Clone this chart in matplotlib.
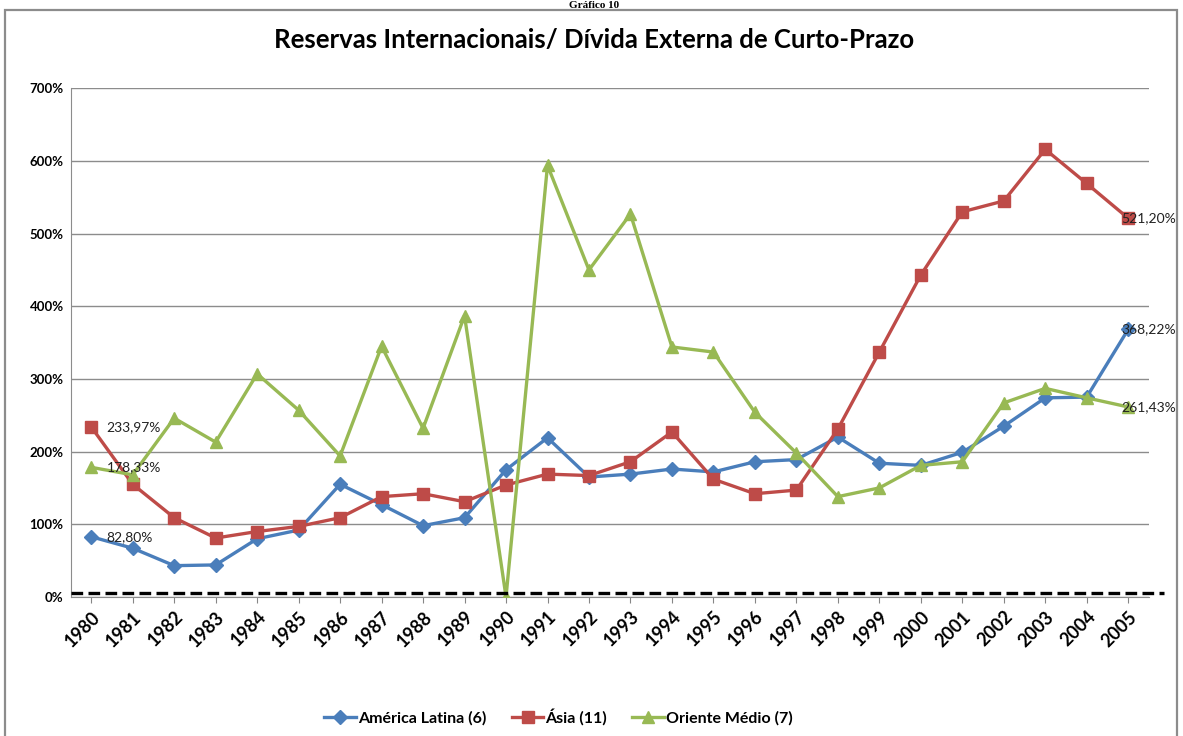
import matplotlib.pyplot as plt
from matplotlib.patches import Rectangle

plt.rcParams['font.family'] = ['Lato', 'DejaVu Sans']

# Data (% of short-term external debt)
years = list(range(1980, 2006))
america_latina = [82.80, 67, 43, 44, 80, 92, 155, 127, 98, 109, 175, 219, 165, 169,
                  176, 172, 186, 189, 220, 184, 181, 199, 235, 274, 275, 368.22]
asia = [233.97, 155, 109, 81, 90, 97, 109, 138, 142, 131, 154, 169, 167, 186,
        227, 162, 142, 147, 231, 337, 443, 530, 545, 616, 569, 521.20]
oriente_medio = [178.33, 168, 246, 213, 307, 257, 194, 345, 232, 387, 0, 594, 450, 527,
                 344, 337, 254, 198, 138, 150, 181, 186, 267, 287, 274, 261.43]
yticks = [0, 100, 200, 300, 400, 500, 600, 700]
ref_level = 5

series = [
    ('América Latina (6)', america_latina, '#4A7EBB', 'D', 7),
    ('Ásia (11)', asia, '#BE4B48', 's', 9),
    ('Oriente Médio (7)', oriente_medio, '#98B954', '^', 9),
]

fig = plt.figure(figsize=(11.83, 7.36), dpi=100)
ax = fig.add_axes([0.0596, 0.189, 0.9116, 0.691])

# outer chart frame
fig.patches.append(Rectangle((0.004, -0.05), 0.991, 1.036, transform=fig.transFigure,
                             fill=False, edgecolor='#8C8C8C', linewidth=1.6))
fig.text(0.502, 0.999, 'Gráfico 10', ha='center', va='top', fontsize=8,
         fontweight='bold', family='Liberation Serif')

for label, vals, color, mk, ms in series:
    ax.plot(years, vals, color=color, linewidth=2.4, marker=mk, markersize=ms,
            label=label, zorder=3)

ax.axhline(ref_level, xmin=0, xmax=1.014, color='black', linewidth=2.4,
           linestyle=(0, (3.5, 1.6)), clip_on=False, zorder=4)

# data labels at first and last year
for vals in (asia, oriente_medio, america_latina):
    ax.annotate(f'{vals[0]:.2f}%'.replace('.', ','), (years[0], vals[0]),
                xytext=(11, 0), textcoords='offset points', va='center',
                fontsize=10, color='#222222', zorder=5)
    ax.annotate(f'{vals[-1]:.2f}%'.replace('.', ','), (years[-1], vals[-1]),
                xytext=(-5, 0), textcoords='offset points', va='center',
                fontsize=10, color='#222222', zorder=5)

ax.set_xlim(1979.5, 2005.5)
ax.set_ylim(0, 700)
ax.set_yticks(yticks)
ax.set_yticklabels([f'{v}%' for v in yticks], fontweight='bold', fontsize=9.5)
ax.set_xticks(years)
ax.set_xticklabels(years, rotation=45, ha='right', rotation_mode='anchor',
                   fontweight='bold', fontsize=13)
ax.tick_params(axis='y', length=0, pad=5)
ax.tick_params(axis='x', length=4, color='#868686', pad=4)
ax.grid(axis='y', color='#8C8C8C', linewidth=1)
ax.set_axisbelow(True)
for s in ('top', 'right'):
    ax.spines[s].set_visible(False)
ax.spines['left'].set_color('#8C8C8C')
ax.spines['bottom'].set_color('#8C8C8C')

fig.text(0.502, 0.945, 'Reservas Internacionais/ Dívida Externa de Curto-Prazo',
         ha='center', va='center', fontsize=18.5, fontweight='bold')

leg = fig.legend(loc='center', bbox_to_anchor=(0.472, 0.026), ncol=3, frameon=False,
                 prop={'weight': 'bold', 'size': 11.5}, handlelength=2.0,
                 columnspacing=1.6, handletextpad=0.1)

fig.savefig('out.png', dpi=100)
